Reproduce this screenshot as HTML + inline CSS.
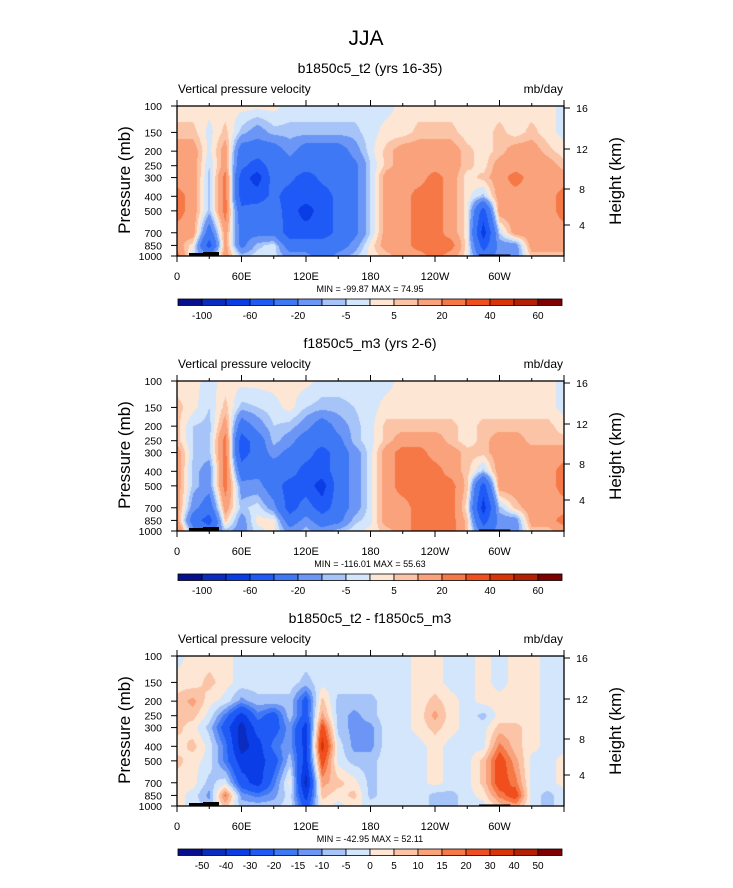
<!DOCTYPE html>
<html><head><meta charset="utf-8">
<style>
body{margin:0;background:#fff;width:733px;height:888px;position:relative;overflow:hidden;font-family:"Liberation Sans",sans-serif}
canvas{position:absolute}
svg{position:absolute;left:0;top:0}
</style></head>
<body>
<canvas id="c0" width="387" height="150" style="left:177px;top:106px"></canvas>
<canvas id="c1" width="387" height="150" style="left:177px;top:381px"></canvas>
<canvas id="c2" width="387" height="150" style="left:177px;top:656px"></canvas>
<svg id="s" width="733" height="888"></svg>
<script>
const lons=[0,15,30,45,60,75,90,105,120,135,150,165,180,195,210,225,240,255,270,285,300,315,330,345,360];
const pres=[100,150,200,250,300,400,500,700,850,1000];
const levelsA=[-100,-80,-60,-40,-20,-10,-5,0,5,10,20,30,40,50,60];
const levelsB=[-50,-40,-30,-20,-15,-10,-5,0,5,10,15,20,30,40,50];
const labelsA=["-100","-60","-20","-5","5","20","40","60"];
const labelsB=["-50","-40","-30","-20","-15","-10","-5","0","5","10","15","20","30","40","50"];
const xTickLabels=["0","60E","120E","180","120W","60W"];
const pTicks=[100,150,200,250,300,400,500,700,850,1000];
const hTicks=[16,12,8,4];
const titles=["b1850c5_t2 (yrs 16-35)","f1850c5_m3 (yrs 2-6)","b1850c5_t2 - f1850c5_m3"];
const minmax=["MIN = -99.87  MAX = 74.95","MIN = -116.01  MAX = 55.63","MIN = -42.95  MAX = 52.11"];
const palette=["#06108e","#0a2cc0","#0b3de6","#1f5af7","#3f78f5","#6b96f5","#a6c4f8","#d4e6fb","#fde6d4","#fbc4a6","#f9a27c","#f57846","#f04e1d","#d93408","#b51f04","#800000"];

const field1=[
[2,2,2,2,2,2,2,-2,-2,-2,-2,-2,-2,-2,2,2,2,2,2,2,2,2,2,2,-2],
[7,7,-2,7,-7,-15,-7,-7,-7,-7,-7,-7,-2,2,2,7,7,7,2,2,7,2,7,2,-2],
[15,15,-2,15,-30,-30,-30,-15,-30,-30,-30,-15,-2,7,15,15,15,15,7,2,7,15,15,7,2],
[15,15,-5,15,-35,-50,-30,-30,-30,-35,-30,-25,-5,7,15,15,15,15,7,2,15,15,15,15,7],
[15,15,-7,25,-50,-70,-30,-35,-50,-35,-30,-25,-5,15,15,15,25,15,2,7,15,25,15,15,15],
[25,15,-7,25,-50,-50,-35,-50,-50,-50,-35,-25,-5,15,15,25,25,15,2,-7,15,15,15,15,25],
[25,15,-7,25,-35,-30,-30,-50,-70,-50,-35,-25,-5,15,15,25,25,15,2,-50,15,15,15,15,25],
[15,15,-30,15,-25,-25,-25,-50,-50,-50,-35,-25,-5,15,15,25,25,15,2,-70,-5,15,15,15,15],
[15,2,-50,15,-25,-7,-2,-30,-30,-30,-30,-15,2,15,15,25,25,25,2,-50,-15,-15,15,15,15],
[25,-5,-15,15,-7,-2,-2,-15,-15,-30,-15,-7,2,7,15,15,25,15,2,-30,-15,-15,7,7,7]];
const field2=[
[2,2,-2,2,2,2,2,2,2,-2,-2,-2,-2,-2,2,2,2,2,2,2,2,2,2,2,-2],
[7,2,-5,7,-7,-5,-2,2,-5,-7,-7,-5,-2,2,2,2,2,2,2,2,2,2,2,2,-2],
[7,-5,-7,15,-30,-15,-5,-7,-15,-30,-15,-7,-2,7,7,7,7,7,2,7,7,7,7,7,2],
[7,-5,-7,25,-50,-30,-7,-15,-30,-30,-25,-7,-2,7,15,15,15,7,2,7,15,15,7,7,7],
[15,-5,-7,25,-50,-30,-15,-25,-30,-50,-30,-15,-2,15,25,25,15,15,7,7,15,15,15,15,15],
[15,-7,-15,25,-30,-25,-30,-30,-50,-50,-30,-15,-2,15,25,25,25,15,7,-7,15,15,15,15,25],
[15,-7,-15,25,-15,-15,-30,-50,-50,-70,-30,-15,-2,15,25,25,25,25,7,-50,15,15,15,15,25],
[15,-15,-30,15,-7,-2,-15,-50,-30,-50,-30,-15,-2,15,15,25,25,25,2,-70,-7,7,15,15,15],
[15,-30,-50,7,-15,2,2,-30,-15,-30,-25,-7,-2,15,15,25,25,25,7,-50,-15,-15,15,15,25],
[25,-15,-30,-7,-15,-2,2,-15,-7,-15,-7,-2,2,7,15,25,25,25,7,-30,-15,-15,7,7,15]];
const field3=[
[-2,2,2,2,-2,-2,-2,-2,-2,-2,-2,-2,-2,-2,-2,2,2,-2,-2,2,-2,2,2,-2,-2],
[2,2,7,2,-2,-2,-2,-2,-7,-2,-2,-2,-2,-2,-2,2,2,-2,-2,2,-2,2,2,-2,-2],
[7,12,2,-2,-12,-7,-7,-7,-25,7,-7,-7,-7,-2,-2,2,7,2,-2,2,2,2,2,-2,-2],
[7,7,-2,-17,-35,-17,-25,-7,-25,12,-7,-12,-7,-2,-2,2,12,2,-2,-7,2,2,2,-2,-2],
[7,2,-7,-25,-45,-25,-25,-12,-35,25,-7,-12,-12,-2,-2,2,7,2,-2,-2,7,7,2,-2,-2],
[2,7,-2,-17,-45,-35,-17,-12,-35,35,-2,-12,-12,-2,-2,-2,2,-2,-2,-2,17,7,2,-2,-2],
[7,2,-2,-17,-35,-35,-25,-7,-35,25,-2,-7,-7,-2,-2,-2,2,-2,-2,7,25,12,-2,-2,2],
[2,2,-7,-2,-25,-35,-17,2,-45,12,7,2,-7,-2,-2,-2,2,-2,-2,7,25,17,-2,-2,2],
[2,-2,-12,17,-12,-17,-12,-2,-35,7,2,7,-7,-2,-2,-2,-7,-7,-2,2,17,25,-2,-7,-2],
[2,-2,-7,7,-7,-7,-7,-2,-25,2,-2,2,-2,-2,-2,-2,-7,-7,-2,-2,7,12,-2,-7,-2]];

const fields=[field1,field2,field3];
const levelSets=[levelsA,levelsA,levelsB];
const PL=177,PW=387,PH=150,PT0=106,DY=275;
const xScale=lon=>lon/360*PW;
const yScale=p=>Math.log10(p/100)*PH;
const hexRGB=h=>[parseInt(h.substr(1,2),16),parseInt(h.substr(3,2),16),parseInt(h.substr(5,2),16)];
const palRGB=palette.map(hexRGB);
const logP=pres.map(p=>Math.log(p));
function sample(f,lon,p){
  let i=Math.min(lons.length-2,Math.max(0,Math.floor((lon-lons[0])/(lons[1]-lons[0]))));
  let tx=(lon-lons[i])/(lons[i+1]-lons[i]);
  let lp=Math.log(p),j=0;
  while(j<pres.length-2&&logP[j+1]<lp)j++;
  let ty=Math.max(0,Math.min(1,(lp-logP[j])/(logP[j+1]-logP[j])));
  const a=f[j][i],b=f[j][i+1],c=f[j+1][i],d=f[j+1][i+1];
  return (a*(1-tx)+b*tx)*(1-ty)+(c*(1-tx)+d*tx)*ty;
}
function level(v,lv){let k=0;while(k<lv.length&&v>=lv[k])k++;return k;}
fields.forEach((f,n)=>{
  const cv=document.getElementById('c'+n),ctx=cv.getContext('2d');
  const img=ctx.createImageData(PW,PH);
  for(let y=0;y<PH;y++){
    const p=100*Math.pow(10,(y+0.5)/PH);
    for(let x=0;x<PW;x++){
      const lon=(x+0.5)/PW*360;
      const c=palRGB[level(sample(f,lon,p),levelSets[n])];
      const o=(y*PW+x)*4;img.data[o]=c[0];img.data[o+1]=c[1];img.data[o+2]=c[2];img.data[o+3]=255;
    }
  }
  ctx.putImageData(img,0,0);
});

const NS="http://www.w3.org/2000/svg",S=document.getElementById('s');
function el(t,a,txt){const e=document.createElementNS(NS,t);for(const k in a)e.setAttribute(k,a[k]);if(txt!==undefined)e.textContent=txt;S.appendChild(e);return e;}
let e=el('text',{x:366,y:45,'font-size':21,'text-anchor':'middle'},'JJA');


for(let n=0;n<3;n++){
  const T=PT0+n*DY,B=T+PH;
  e=el('text',{x:370,y:T-33,'font-size':14,'text-anchor':'middle'},titles[n]);
  
  
  e=el('text',{x:PL+1,y:T-13,'font-size':12},'Vertical pressure velocity');
  
  
  e=el('text',{x:PL+PW-1,y:T-13,'font-size':12,'text-anchor':'end'},'mb/day');
  
  
  e=el('path',{d:`M${PL+12},${B} L${PL+12},${B-3} L${PL+26},${B-3} L${PL+26},${B-4} L${PL+42},${B-4} L${PL+42},${B} Z`,fill:'#000'});
  
  
  e=el('rect',{x:PL+xScale(281),y:B-1.5,width:xScale(29),height:1.5,fill:'#000'});
  
  
  e=el('rect',{x:PL,y:T,width:PW,height:PH,fill:'none',stroke:'#000','stroke-width':1.3});
  
  
  for(let k=0;k<=12;k++){
    const x=PL+xScale(k*30),len=k%2?3:6;
    el('line',{x1:x,y1:B,x2:x,y2:B+len,stroke:'#000'});
    el('line',{x1:x,y1:T,x2:x,y2:T-len,stroke:'#000'});
  }
  xTickLabels.forEach((l,k)=>{
    e=el('text',{x:PL+xScale(k*60),y:B+24,'font-size':11,'text-anchor':'middle'},l);
    
    
  });
  pTicks.forEach(p=>{
    const y=T+yScale(p);
    el('line',{x1:PL,y1:y,x2:PL-6,y2:y,stroke:'#000'});
    e=el('text',{x:PL-15,y:y+4,'font-size':10.5,'text-anchor':'end'},p);
    
    
  });
  const hPos=[2,43,83,119];
  hTicks.forEach((h,k)=>{
    const y=T+hPos[k];
    el('line',{x1:PL+PW,y1:y,x2:PL+PW+6,y2:y,stroke:'#000'});
    e=el('text',{x:PL+PW+18,y:y+4,'font-size':10.5,'text-anchor':'middle'},h);
    
    
  });
  e=el('text',{x:0,y:0,'font-size':17,'text-anchor':'middle',transform:`translate(130,${T+74}) rotate(-90)`},'Pressure (mb)');
  
  
  e=el('text',{x:0,y:0,'font-size':17,'text-anchor':'middle',transform:`translate(621,${T+75}) rotate(-90)`},'Height (km)');
  
  
  e=el('text',{x:370,y:B+36,'font-size':9,'text-anchor':'middle'},minmax[n]);
  
  
  const cy=T+193,cx=178,bw=24;
  palette.forEach((c,k)=>{
    e=el('rect',{x:cx+k*bw,y:cy,width:bw,height:6.5,fill:c,stroke:'#000','stroke-width':0.8});
    
    
  });
  const labs=n<2?labelsA:labelsB;
  labs.forEach((l,k)=>{
    const bi=n<2?1+2*k:1+k;
    e=el('text',{x:cx+bi*bw,y:cy+20,'font-size':10,'text-anchor':'middle'},l);
    
    
  });
}
</script>
</body></html>
